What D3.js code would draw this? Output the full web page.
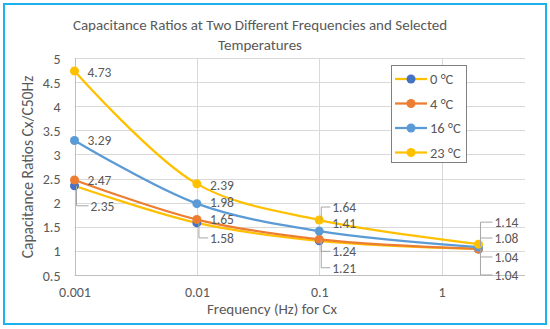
<!DOCTYPE html>
<html>
<head>
<meta charset="utf-8">
<script src="https://cdn.jsdelivr.net/npm/d3@7"></script>
<style>
  body { margin: 0; background: #fff; }
  text { font-family: Carlito, Lato, "Open Sans", sans-serif; fill: #595959; }
</style>
</head>
<body>
<div id="chart"></div>
<script>
// Dữ liệu
const frequencies = [0.001, 0.01, 0.1, 2];
const xTicks = [0.001, 0.01, 0.1, 1];
const yTicks = [0.5, 1, 1.5, 2, 2.5, 3, 3.5, 4, 4.5, 5];
const seriesNames = ["0 °C", "4 °C", "16 °C", "23 °C"];
const ratio0 = [2.35, 1.58, 1.21, 1.04];
const ratio4 = [2.47, 1.65, 1.24, 1.04];
const ratio16 = [3.29, 1.98, 1.41, 1.08];
const ratio23 = [4.73, 2.39, 1.64, 1.14];

// Màu: đường và điểm
const lineColors = ["#FFC000", "#ED7D31", "#5B9BD5", "#FFC000"];
const markerColors = ["#4472C4", "#ED7D31", "#5B9BD5", "#FFC000"];

// Vị trí nhãn (dx, dy so với điểm, có đường dẫn hay không)
const labelOffsets = [
    [[16, 20, true], [13, 15, true], [13, 27, true], [16, 26, true]],
    [[13, 0, false], [13, 0, false], [13, 12, true], [16, 8, true]],
    [[13, 0, false], [13, -1, false], [13, -8, false], [16, -9, true]],
    [[13, 1, false], [13, 1, false], [13, -13, true], [16, -22, true]]
];

const allSeries = [ratio0, ratio4, ratio16, ratio23];

const W = 550, H = 329;
const svg = d3.select("#chart").append("svg")
    .attr("width", W)
    .attr("height", H);

// Khung ngoài
svg.append("rect")
    .attr("x", 4).attr("y", 4)
    .attr("width", W - 8).attr("height", H - 9)
    .attr("fill", "#fff")
    .attr("stroke", "#1FB3EE")
    .attr("stroke-width", 2);

const xScale = d3.scaleLog()
    .domain([0.001, 4.8])
    .range([74.5, 525]);

const yScale = d3.scaleLinear()
    .domain([0.5, 5])
    .range([275, 58]);

// Lưới
svg.append("g").selectAll("line")
    .data(yTicks)
    .enter().append("line")
    .attr("x1", xScale.range()[0]).attr("x2", xScale.range()[1])
    .attr("y1", d => Math.round(yScale(d)) + 0.5)
    .attr("y2", d => Math.round(yScale(d)) + 0.5)
    .attr("stroke", d => d === 0.5 ? "#BFBFBF" : "#D9D9D9");

svg.append("g").selectAll("line")
    .data(xTicks)
    .enter().append("line")
    .attr("x1", d => Math.round(xScale(d)) + 0.5)
    .attr("x2", d => Math.round(xScale(d)) + 0.5)
    .attr("y1", yScale(5)).attr("y2", yScale(0.5))
    .attr("stroke", d => d === 0.001 ? "#BFBFBF" : "#D9D9D9");

// Trục
const yAxis = svg.append("g")
    .attr("transform", `translate(${xScale.range()[0] - 11},0)`)
    .call(d3.axisLeft(yScale).tickValues(yTicks).tickSize(0).tickFormat(d3.format("")));
yAxis.select(".domain").remove();
yAxis.selectAll("text").style("font-size", "14px").attr("fill", "#595959").attr("dy", "0.36em");

const xAxis = svg.append("g")
    .attr("transform", `translate(0,${yScale(0.5) + 9})`)
    .call(d3.axisBottom(xScale).tickValues(xTicks).tickSize(0).tickFormat(d => String(d)));
xAxis.select(".domain").remove();
xAxis.selectAll("text").style("font-size", "14px").attr("fill", "#595959");

// Tiêu đề
const title = svg.append("text")
    .attr("text-anchor", "middle")
    .style("font-size", "15px");
title.append("tspan").attr("x", 260).attr("y", 30).text("Capacitance Ratios at Two Different Frequencies and Selected");
title.append("tspan").attr("x", 260).attr("y", 50).text("Temperatures");

svg.append("text")
    .attr("x", 272).attr("y", 314)
    .attr("text-anchor", "middle")
    .style("font-size", "15px")
    .text("Frequency (Hz) for Cx");

svg.append("text")
    .attr("transform", `translate(33,167) rotate(-90)`)
    .attr("text-anchor", "middle")
    .style("font-size", "15.5px")
    .text("Capacitance Ratios Cx/C50Hz");

// Đường và điểm
const line = d3.line()
    .x((d, i) => xScale(frequencies[i]))
    .y(d => yScale(d))
    .curve(d3.curveCatmullRom.alpha(0.5));

allSeries.forEach((vals, s) => {
    svg.append("path")
        .datum(vals)
        .attr("d", line)
        .attr("fill", "none")
        .attr("stroke", lineColors[s])
        .attr("stroke-width", 2.25);

    svg.selectAll(".m" + s)
        .data(vals)
        .enter().append("circle")
        .attr("class", "m" + s)
        .attr("cx", (d, i) => xScale(frequencies[i]))
        .attr("cy", d => yScale(d))
        .attr("r", 4.5)
        .attr("fill", markerColors[s]);
});

// Nhãn dữ liệu
allSeries.forEach((vals, s) => {
    vals.forEach((v, i) => {
        const px = xScale(frequencies[i]), py = yScale(v);
        const [dx, dy, leader] = labelOffsets[s][i];
        if (leader) {
            svg.append("path")
                .attr("d", `M${px + 2},${py} V${py + dy} H${px + dx - 2}`)
                .attr("fill", "none")
                .attr("stroke", "#A6A6A6")
                .attr("stroke-width", 1);
        }
        svg.append("text")
            .attr("x", px + dx)
            .attr("y", py + dy)
            .attr("dy", "0.36em")
            .style("font-size", "13.5px")
            .text(d3.format(".2f")(v));
    });
});

// Chú giải
const legend = svg.append("g");
legend.append("rect")
    .attr("x", 391.5).attr("y", 65.5)
    .attr("width", 75).attr("height", 97)
    .attr("fill", "#fff")
    .attr("stroke", "#808080");

seriesNames.forEach((name, s) => {
    const ly = 79 + s * 24.5;
    legend.append("line")
        .attr("x1", 395).attr("x2", 427)
        .attr("y1", ly).attr("y2", ly)
        .attr("stroke", lineColors[s])
        .attr("stroke-width", 2.25);
    legend.append("circle")
        .attr("cx", 411).attr("cy", ly).attr("r", 4.5)
        .attr("fill", markerColors[s]);
    legend.append("text")
        .attr("x", 430).attr("y", ly)
        .attr("dy", "0.36em")
        .style("font-size", "14.5px")
        .text(name);
});
</script>
</body>
</html>
